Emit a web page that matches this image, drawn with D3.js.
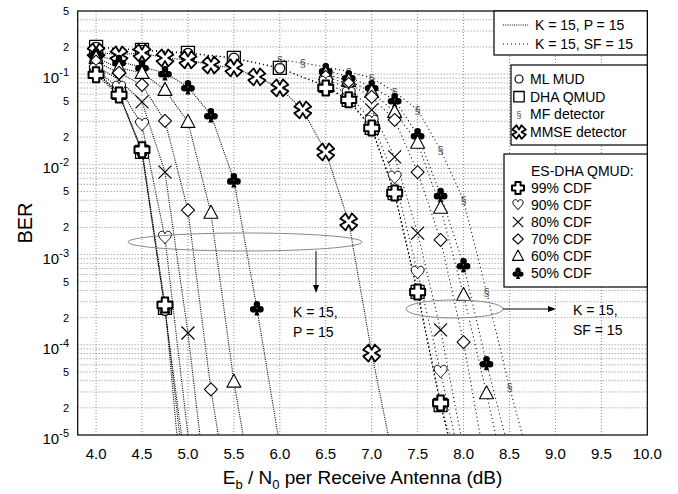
<!DOCTYPE html>
<html lang="en">
<head>
<meta charset="UTF-8">
<title>BER vs Eb/N0</title>
<script src="https://d3js.org/d3.v7.min.js"></script>
<style>
  body { margin: 0; background: #fff; }
  text { font-family: "Liberation Sans", Arial, sans-serif; fill: #000; }
</style>
</head>
<body>
<div class="chart"></div>
<script>
  // axis ticks
  const xTicks = [4.0, 4.5, 5.0, 5.5, 6.0, 6.5, 7.0, 7.5, 8.0, 8.5, 9.0, 9.5, 10.0];
  const yLabels = [0.5, 0.2, 0.1, 0.05, 0.02, 0.01, 5e-3, 2e-3, 1e-3, 5e-4, 2e-4, 1e-4, 5e-5, 2e-5, 1e-5];

  // K = 15, P = 15  (last point of each line = where it leaves the plot)
  const pSnrMl   = [4.0, 4.25, 4.5, 4.75, 4.93];
  const pMl      = [0.104, 0.060, 0.0135, 2.4e-4, 1e-5];
  const pSnrDha  = [4.0, 4.25, 4.5, 4.75, 4.91];
  const pDha     = [0.106, 0.062, 0.0137, 2.56e-4, 1e-5];
  const pSnrMmse = [4.0, 4.25, 4.5, 4.75, 5.0, 5.25, 5.5, 5.75, 6.0, 6.25, 6.5, 6.75, 7.0, 7.18];
  const pMmse    = [0.176, 0.163, 0.172, 0.151, 0.144, 0.126, 0.117, 0.093, 0.0703, 0.0401, 0.0137, 2.3e-3, 8.1e-5, 1e-5];
  const pSnr99   = [4.0, 4.25, 4.5, 4.75, 4.88];
  const p99      = [0.098, 0.0587, 0.0145, 2.76e-4, 1e-5];
  const pSnr90   = [4.0, 4.25, 4.5, 4.75, 5.0];
  const p90      = [0.111, 0.0703, 0.0273, 1.53e-3, 1e-5];
  const pSnr80   = [4.0, 4.25, 4.5, 4.75, 5.0, 5.13];
  const p80      = [0.123, 0.0863, 0.0492, 8.2e-3, 1.35e-4, 1e-5];
  const pSnr70   = [4.0, 4.25, 4.5, 4.75, 5.0, 5.25, 5.33];
  const p70      = [0.137, 0.103, 0.0759, 0.0303, 3.1e-3, 3.2e-5, 1e-5];
  const pSnr60   = [4.0, 4.25, 4.5, 4.75, 5.0, 5.25, 5.5, 5.6];
  const p60      = [0.151, 0.117, 0.103, 0.0668, 0.0295, 2.9e-3, 3.9e-5, 1e-5];
  const pSnr50   = [4.0, 4.25, 4.5, 4.75, 5.0, 5.25, 5.5, 5.75, 5.98];
  const p50      = [0.163, 0.137, 0.120, 0.103, 0.0721, 0.0353, 6.7e-3, 2.56e-4, 1e-5];

  // K = 15, SF = 15
  const sSnrMl   = [4.0, 4.5, 5.0, 5.5, 6.0, 6.5, 6.75, 7.0, 7.25, 7.5, 7.75, 7.85];
  const sMl      = [0.198, 0.183, 0.170, 0.150, 0.116, 0.073, 0.051, 0.025, 4.7e-3, 3.7e-4, 2.1e-5, 1e-5];
  const sSnrDha  = [4.0, 4.5, 5.0, 5.5, 6.0, 6.5, 6.75, 7.0, 7.25, 7.5, 7.75, 7.83];
  const sDha     = [0.200, 0.185, 0.172, 0.151, 0.117, 0.074, 0.0518, 0.0253, 4.8e-3, 3.85e-4, 2.15e-5, 1e-5];
  const sSnrMf   = [6.0, 6.25, 6.5, 6.75, 7.0, 7.25, 7.5, 7.75, 8.0, 8.25, 8.5, 8.64];
  const sMf      = [0.144, 0.133, 0.120, 0.106, 0.0908, 0.0635, 0.0401, 0.0145, 4.0e-3, 3.85e-4, 3.4e-5, 1e-5];
  const sSnr99   = [6.5, 6.75, 7.0, 7.25, 7.5, 7.75, 7.83];
  const s99      = [0.0703, 0.0518, 0.0253, 4.8e-3, 3.85e-4, 2.26e-5, 1e-5];
  const sSnr90   = [6.5, 6.75, 7.0, 7.25, 7.5, 7.75, 7.9];
  const s90      = [0.0798, 0.0603, 0.0295, 7.1e-3, 6.25e-4, 5.0e-5, 1e-5];
  const sSnr80   = [6.5, 6.75, 7.0, 7.25, 7.5, 7.75, 7.97];
  const s80      = [0.0863, 0.0703, 0.0401, 0.0121, 1.73e-3, 1.46e-4, 1e-5];
  const sSnr70   = [6.5, 6.75, 7.0, 7.25, 7.5, 7.75, 8.0, 8.18];
  const s70      = [0.093, 0.0778, 0.0558, 0.031, 8.2e-3, 1.45e-3, 1.07e-4, 1e-5];
  const sSnr60   = [6.5, 6.75, 7.0, 7.25, 7.5, 7.75, 8.0, 8.25, 8.35];
  const s60      = [0.100, 0.0841, 0.0635, 0.0381, 0.0173, 3.3e-3, 3.56e-4, 2.9e-5, 1e-5];
  const sSnr50   = [6.5, 6.75, 7.0, 7.25, 7.5, 7.75, 8.0, 8.25, 8.45];
  const s50      = [0.111, 0.093, 0.0721, 0.0518, 0.0212, 4.6e-3, 7.7e-4, 6.3e-5, 1e-5];

  const series = [
    {x: sSnrDha, y: sDha, mark: 'square', g: 'SF'},
    {x: pSnrDha, y: pDha, mark: 'square', g: 'P'},
    {x: sSnrMl, y: sMl, mark: 'circle', g: 'SF'},
    {x: pSnrMl, y: pMl, mark: 'circle', g: 'P'},
    {x: pSnrMmse, y: pMmse, mark: 'mmse', g: 'P'},
    {x: sSnrMf, y: sMf, mark: 'mf', g: 'SF'},
    {x: pSnr50, y: p50, mark: 'club', g: 'P'},
    {x: sSnr50, y: s50, mark: 'club', g: 'SF'},
    {x: pSnr60, y: p60, mark: 'triangle', g: 'P'},
    {x: sSnr60, y: s60, mark: 'triangle', g: 'SF'},
    {x: pSnr70, y: p70, mark: 'diamond', g: 'P'},
    {x: sSnr70, y: s70, mark: 'diamond', g: 'SF'},
    {x: pSnr80, y: p80, mark: 'cross', g: 'P'},
    {x: sSnr80, y: s80, mark: 'cross', g: 'SF'},
    {x: pSnr90, y: p90, mark: 'heart', g: 'P'},
    {x: sSnr90, y: s90, mark: 'heart', g: 'SF'},
    {x: pSnr99, y: p99, mark: 'plus', g: 'P'},
    {x: sSnr99, y: s99, mark: 'plus', g: 'SF'}
  ];

  const W = 678, H = 494;
  const x = d3.scaleLinear().domain([3.8, 10]).range([77.7, 647.3]);
  const y = d3.scaleLog().domain([1e-5, 0.5]).range([435, 11]);

  const svg = d3.select('.chart').append('svg').attr('width', W).attr('height', H);

  svg.append('defs').append('clipPath').attr('id', 'plot')
    .append('rect').attr('x', x(3.8)).attr('y', y(0.5))
    .attr('width', x(10) - x(3.8)).attr('height', y(1e-5) - y(0.5));

  // grid
  const grid = svg.append('g').attr('stroke', '#8a8a8a').attr('stroke-width', 1).attr('stroke-dasharray', '1,2');
  grid.selectAll('.vg').data(xTicks.slice(0, -1)).enter().append('line')
    .attr('x1', d => x(d)).attr('x2', d => x(d)).attr('y1', y(0.5)).attr('y2', y(1e-5));
  const minor = y.ticks().filter(v => v > 1e-5 && v < 0.5);
  grid.selectAll('.hg').data(minor).enter().append('line')
    .attr('x1', x(3.8)).attr('x2', x(10)).attr('y1', d => y(d)).attr('y2', d => y(d));

  // axis labels
  svg.append('g').selectAll('text').data(xTicks).enter().append('text')
    .attr('x', d => x(d)).attr('y', 459).attr('text-anchor', 'middle')
    .style('font-size', '15px').text(d => d.toFixed(1));

  const yl = svg.append('g').selectAll('text').data(yLabels).enter().append('text')
    .attr('x', 69).attr('text-anchor', 'end');
  yl.each(function (d) {
    const t = d3.select(this);
    const e = Math.log10(d);
    if (Math.abs(e - Math.round(e)) < 1e-9) {
      t.attr('y', y(d) + 9).style('font-size', '15px').text('10');
      t.append('tspan').attr('dy', -7).style('font-size', '11px').text(Math.round(e));
    } else {
      t.attr('y', y(d) + 4).style('font-size', '11px').text(Math.round(d / Math.pow(10, Math.floor(e))));
    }
  });

  svg.append('text').attr('transform', 'translate(32,' + (y(1e-5) + y(0.5)) / 2 + ') rotate(-90)')
    .attr('text-anchor', 'middle').style('font-size', '20px').text('BER');

  const xt = svg.append('text').attr('x', (x(3.8) + x(10)) / 2).attr('y', 484)
    .attr('text-anchor', 'middle').style('font-size', '19px');
  xt.append('tspan').text('E');
  xt.append('tspan').attr('dy', 5).style('font-size', '13px').text('b');
  xt.append('tspan').attr('dy', -5).text(' / N');
  xt.append('tspan').attr('dy', 5).style('font-size', '13px').text('0');
  xt.append('tspan').attr('dy', -5).text(' per Receive Antenna (dB)');

  // marker shapes
  function poly(pts, rot) {
    const c = Math.cos(rot), s = Math.sin(rot);
    return 'M' + pts.map(p => [(p[0] * c - p[1] * s).toFixed(2), (p[0] * s + p[1] * c).toFixed(2)].join(',')).join('L') + 'Z';
  }
  function ring(cx, cy, r) {
    return `M${cx - r},${cy}a${r},${r} 0 1,0 ${2 * r},0a${r},${r} 0 1,0 ${-2 * r},0Z`;
  }
  const a = 3.2, s7 = 7.5;
  const greek = [[-a, -s7], [a, -s7], [a, -a], [s7, -a], [s7, a], [a, a], [a, s7], [-a, s7], [-a, a], [-s7, a], [-s7, -a], [-a, -a]];
  const mal = [[-2.2, -2.2], [-3.8, -8.2], [3.8, -8.2], [2.2, -2.2], [8.2, -3.8], [8.2, 3.8], [2.2, 2.2],
               [3.8, 8.2], [-3.8, 8.2], [-2.2, 2.2], [-8.2, 3.8], [-8.2, -3.8]];
  const shapes = {
    square: 'M-6.5,-6.5H6.5V6.5H-6.5Z',
    circle: ring(0, 0, 5),
    plus: poly(greek, 0),
    mmse: poly(mal, Math.PI / 4),
    cross: 'M-6.5,-6.5L6.5,6.5M-6.5,6.5L6.5,-6.5',
    diamond: 'M0,-6.5L6.5,0L0,6.5L-6.5,0Z',
    triangle: 'M0,-7.5L7,5.5L-7,5.5Z',
    heart: 'M0,6C-2,3 -6.5,0 -6.5,-3C-6.5,-6 -3.5,-7.2 -1.8,-6.3C-0.8,-5.8 0,-4.8 0,-4C0,-4.8 0.8,-5.8 1.8,-6.3C3.5,-7.2 6.5,-6 6.5,-3C6.5,0 2,3 0,6Z',
    club: ring(0, -3.6, 3.3) + ring(-3.6, 1.4, 3.3) + ring(3.6, 1.4, 3.3) + 'M0,0L-2.6,7.5H2.6Z'
  };
  const styles = {
    square: {fill: '#fff', sw: 1.3}, circle: {fill: '#fff', sw: 1.2}, plus: {fill: '#fff', sw: 2},
    mmse: {fill: '#fff', sw: 1.8}, cross: {fill: 'none', sw: 1.2}, diamond: {fill: '#fff', sw: 1.1},
    triangle: {fill: '#fff', sw: 1.1}, heart: {fill: '#fff', sw: 1}, club: {fill: '#000', sw: 0}
  };
  function drawMark(g, mark, cx, cy, k) {
    if (mark === 'mf') {
      g.append('text').attr('x', cx).attr('y', cy + 4).attr('text-anchor', 'middle')
        .style('font-size', (11 * k) + 'px').style('fill', '#444').text('§');
      return;
    }
    const st = styles[mark];
    g.append('path').attr('d', shapes[mark])
      .attr('transform', `translate(${cx},${cy}) scale(${k})`)
      .attr('fill', st.fill).attr('stroke', '#000').attr('stroke-width', st.sw / k)
      .attr('stroke-linejoin', 'round');
  }

  // lines
  const line = d3.line().x(d => x(d[0])).y(d => y(d[1]));
  const plot = svg.append('g').attr('clip-path', 'url(#plot)');
  plot.selectAll('.curve').data(series).enter().append('path')
    .attr('d', s => line(s.x.map((v, i) => [v, s.y[i]])))
    .attr('fill', 'none').attr('stroke', '#000').attr('stroke-width', 1.1)
    .attr('stroke-dasharray', s => s.g === 'P' ? '1,1.2' : '1,3');

  // markers
  const marks = plot.append('g');
  series.forEach(s => {
    s.x.forEach((v, i) => {
      if (s.y[i] > 1.05e-5) drawMark(marks, s.mark, x(v), y(s.y[i]), 1);
    });
  });

  // annotations
  const ann = svg.append('g');
  ann.append('ellipse').attr('cx', 245).attr('cy', 242).attr('rx', 117).attr('ry', 9)
    .attr('fill', 'none').attr('stroke', '#888').attr('stroke-width', 1);
  ann.append('line').attr('x1', 316).attr('y1', 251).attr('x2', 316).attr('y2', 286)
    .attr('stroke', '#000').attr('stroke-width', 1);
  ann.append('path').attr('d', 'M313,285L319,285L316,293Z').attr('fill', '#000');
  ann.append('text').attr('x', 293).attr('y', 317).style('font-size', '14px').text('K = 15,');
  ann.append('text').attr('x', 293).attr('y', 337).style('font-size', '14px').text('P = 15');

  ann.append('ellipse').attr('cx', 454.5).attr('cy', 309).attr('rx', 48.5).attr('ry', 9)
    .attr('fill', 'none').attr('stroke', '#888').attr('stroke-width', 1);
  ann.append('line').attr('x1', 503).attr('y1', 309).attr('x2', 549).attr('y2', 309)
    .attr('stroke', '#000').attr('stroke-width', 1);
  ann.append('path').attr('d', 'M548,306L548,312L556,309Z').attr('fill', '#000');
  ann.append('text').attr('x', 573).attr('y', 315).style('font-size', '14px').text('K = 15,');
  ann.append('text').attr('x', 573).attr('y', 335).style('font-size', '14px').text('SF = 15');

  // frame
  svg.append('rect').attr('x', x(3.8)).attr('y', y(0.5))
    .attr('width', x(10) - x(3.8)).attr('height', y(1e-5) - y(0.5))
    .attr('fill', 'none').attr('stroke', '#000').attr('stroke-width', 1.2);

  // legends
  const lg = svg.append('g');
  function box(x0, y0, x1, y1) {
    lg.append('rect').attr('x', x0).attr('y', y0).attr('width', x1 - x0).attr('height', y1 - y0)
      .attr('fill', '#fff').attr('stroke', '#000').attr('stroke-width', 1.2);
  }
  box(494, 11, 647.3, 55);
  [['1,1.2', 'K = 15, P = 15', 25], ['1,3', 'K = 15, SF = 15', 44]].forEach(r => {
    lg.append('line').attr('x1', 503).attr('x2', 528).attr('y1', r[2]).attr('y2', r[2])
      .attr('stroke', '#000').attr('stroke-dasharray', r[0]);
    lg.append('text').attr('x', 535).attr('y', r[2] + 5).style('font-size', '14px').text(r[1]);
  });

  box(511, 65, 647.3, 145);
  const det = [['circle', 'ML MUD'], ['square', 'DHA QMUD'], ['mf', 'MF detector'], ['mmse', 'MMSE detector']];
  det.forEach((d, i) => {
    const cy = 79 + i * 17.7;
    drawMark(lg, d[0], 519, cy, 0.8);
    lg.append('text').attr('x', 530).attr('y', cy + 5).style('font-size', '14px').text(d[1]);
  });

  box(504, 154, 647.3, 287);
  lg.append('text').attr('x', 531).attr('y', 176).style('font-size', '14px').text('ES-DHA QMUD:');
  const cdf = [['plus', '99% CDF'], ['heart', '90% CDF'], ['cross', '80% CDF'], ['diamond', '70% CDF'], ['triangle', '60% CDF'], ['club', '50% CDF']];
  cdf.forEach((d, i) => {
    const cy = 188 + i * 17;
    drawMark(lg, d[0], 518, cy, 0.8);
    lg.append('text').attr('x', 531).attr('y', cy + 5).style('font-size', '14px').text(d[1]);
  });
</script>
</body>
</html>
